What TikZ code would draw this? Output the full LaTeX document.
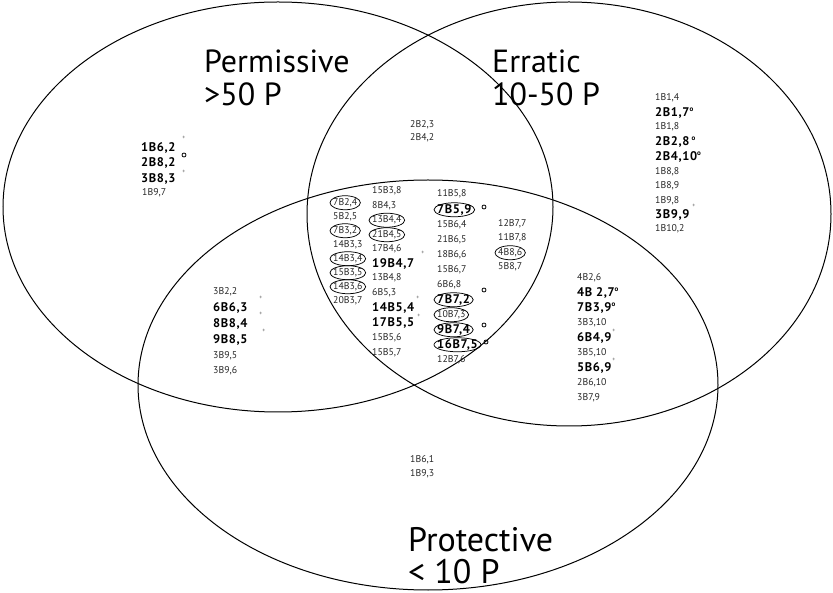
\documentclass[tikz,border=0pt]{standalone}
\usepackage{fontspec}
\setmainfont{PT Sans}
\usetikzlibrary{calc}
\tikzset{
 venn/.style={draw=black, line width=1pt},
 rg/.style={anchor=base west, inner sep=0pt, font=\fontsize{9.8}{10}\selectfont, text=black!85},
 bd/.style={anchor=base west, inner sep=0pt, font=\fontsize{12.5}{12}\selectfont\bfseries\addfontfeature{LetterSpace=5}, text=black},
 ring/.style={draw=black, line width=0.75pt},
 plus/.style={inner sep=0pt, font=\fontsize{6}{6}\selectfont, text=black!60},
 ringzero/.style={circle, draw=black, line width=0.8pt, inner sep=0pt, minimum size=4pt},
 big/.style={anchor=base west, inner sep=0pt, text height=22pt, text depth=0pt, font=\fontsize{32}{32}\selectfont},
 bigger/.style={anchor=base west, inner sep=0pt, text height=23pt, text depth=0pt, font=\fontsize{34}{34}\selectfont},
}
\newcommand{\lr}[4]{\node[rg] (#1) at (#2,{#3+3.5}) {#4};}
\newcommand{\lbd}[4]{\node[bd] (#1) at (#2,{#3+4.3}) {#4};}
\newcommand{\ringit}[1]{\draw[ring] let \p1=($(#1.east)-(#1.west)$) in (#1.center) ellipse [x radius={0.5*\x1+3pt}, y radius=7pt];}
\newcommand{\dgr}{\rlap{\raisebox{5pt}{\fontsize{7}{7}\selectfont\bfseries o}}}
\begin{document}
\begin{tikzpicture}[x=1pt,y=-1pt]
\useasboundingbox (0,0) rectangle (833,593);
% sets
\draw[venn] (278,207) ellipse [x radius=275pt, y radius=205pt];
\draw[venn] (569,214) ellipse [x radius=262pt, y radius=212pt];
\draw[venn] (428,385) ellipse [x radius=290pt, y radius=205pt];
% big labels
\node[big] (perm) at (204,73) {Permissive};
\node[big] (permv) at (204,106) {>50 P};
\node[big] (err) at (492,73) {Erratic};
\node[big] (errv) at (492,106) {10-50 P};
\node[bigger] (prot) at (408,551) {Protective};
\node[bigger] (protv) at (408,583) {< 10 P};
% permissive only
\lbd{p1}{141}{147}{1B6,2}
\lbd{p2}{141}{162}{2B8,2}
\lbd{p3}{141}{178}{3B8,3}
\lr{p4}{142}{192}{1B9,7}
\node[plus] (mp1) at (184,138) {+};
\node[ringzero] (mp2) at (184,155) {};
\node[plus] (mp3) at (184,172) {+};
% permissive & erratic
\lr{t1}{410}{124}{2B2,3}
\lr{t2}{410}{137}{2B4,2}
% center column A
\lr{a1}{333}{202}{7B2,4}\ringit{a1}
\lr{a2}{333}{216}{5B2,5}
\lr{a3}{333}{230}{7B3,2}\ringit{a3}
\lr{a4}{333}{244}{14B3,3}
\lr{a5}{333}{258}{14B3,4}\ringit{a5}
\lr{a6}{333}{272}{15B3,5}\ringit{a6}
\lr{a7}{333}{286}{14B3,6}\ringit{a7}
\lr{a8}{333}{300}{20B3,7}
% center column B
\lr{b1}{372}{190}{15B3,8}
\lr{b2}{372}{205}{8B4,3}
\lr{b3}{372}{219.5}{13B4,4}\ringit{b3}
\lr{b4}{372}{234}{21B4,5}\ringit{b4}
\lr{b5}{372}{248}{17B4,6}
\lbd{b6}{372}{263}{19B4,7}
\lr{b7}{372}{277}{13B4,8}
\lr{b8}{372}{292}{6B5,3}
\lbd{b9}{372}{307}{14B5,4}
\lbd{b10}{372}{322}{17B5,5}
\lr{b11}{372}{337}{15B5,6}
\lr{b12}{372}{352}{15B5,7}
\node[plus] (mb6) at (423,253) {+};
\node[plus] (mb9) at (418,298) {+};
\node[plus] (mb10) at (419,316) {+};
% center column C
\lr{c1}{437}{193}{11B5,8}
\lbd{c2}{437}{209}{7B5,9}\ringit{c2}
\lr{c3}{437}{224}{15B6,4}
\lr{c4}{437}{239}{21B6,5}
\lr{c5}{437}{254}{18B6,6}
\lr{c6}{437}{269}{15B6,7}
\lr{c7}{437}{284}{6B6,8}
\lbd{c8}{437}{299}{7B7,2}\ringit{c8}
\lr{c9}{437}{314}{10B7,3}\ringit{c9}
\lbd{c10}{437}{329}{9B7,4}\ringit{c10}
\lbd{c11}{437}{344}{16B7,5}\ringit{c11}
\lr{c12}{437}{359}{12B7,6}
\node[ringzero] (mc2) at (484,207) {};
\node[ringzero] (mc8) at (484,290) {};
\node[ringzero] (mc10) at (484,325) {};
\node[ringzero] (mc11) at (486,342) {};
% center column D
\lr{d1}{498}{223}{12B7,7}
\lr{d2}{498}{237}{11B7,8}
\lr{d3}{498}{252}{4B8,6}\ringit{d3}
\lr{d4}{498}{266}{5B8,7}
% permissive & protective
\lr{l1}{213}{291}{3B2,2}
\lbd{l2}{213}{307}{6B6,3}
\lbd{l3}{213}{323}{8B8,4}
\lbd{l4}{213}{339}{9B8,5}
\lr{l5}{213}{355}{3B9,5}
\lr{l6}{213}{370}{3B9,6}
\node[plus] (ml2) at (261,298) {+};
\node[plus] (ml3) at (261,314) {+};
\node[plus] (ml4) at (264,331) {+};
% erratic & protective
\lr{r1}{577}{277}{4B2,6}
\lbd{r2}{577}{292}{4B 2,7\dgr}
\lbd{r3}{577}{307}{7B3,9\dgr}
\lr{r4}{577}{322}{3B3,10}
\lbd{r5}{577}{337}{6B4,9}
\lr{r6}{577}{352}{3B5,10}
\lbd{r7}{577}{367}{5B6,9}
\lr{r8}{577}{382}{2B6,10}
\lr{r9}{577}{397}{3B7,9}
\node[plus] (mr5) at (614,331) {+};
\node[plus] (mr7) at (614,360) {+};
% erratic only
\lr{e1}{655}{97}{1B1,4}
\lbd{e2}{655}{112}{2B1,7\dgr}
\lr{e3}{655}{126}{1B1,8}
\lbd{e4}{655}{141}{2B2,8\,\dgr}
\lbd{e5}{655}{156}{2B4,10\dgr}
\lr{e6}{655}{171}{1B8,8}
\lr{e7}{655}{185}{1B8,9}
\lr{e8}{655}{200}{1B9,8}
\lbd{e9}{655}{214}{3B9,9}
\lr{e10}{655}{228}{1B10,2}
\node[plus] (me9) at (694,206) {+};
% protective only
\lr{s1}{410}{459}{1B6,1}
\lr{s2}{410}{473}{1B9,3}
\end{tikzpicture}
\end{document}
